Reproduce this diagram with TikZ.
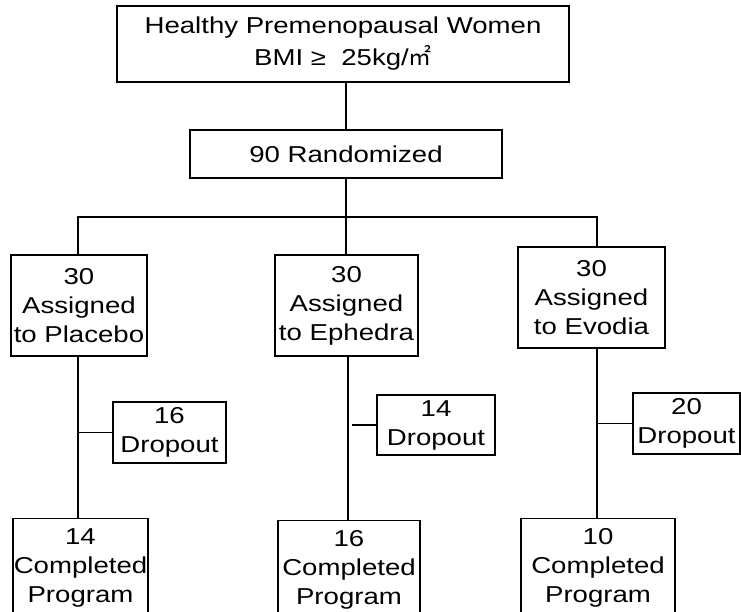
\documentclass[tikz,border=0pt]{standalone}
\usepackage{fontspec}
\setmainfont{Liberation Sans}[FakeStretch=1.2]
\newfontfamily\cjk{Noto Sans CJK KR}
\begin{document}
\begin{tikzpicture}[x=1pt,y=-1pt,
  box/.style={draw, line width=1.2pt, inner sep=0pt, align=center,
    font=\fontsize{23}{29}\selectfont},
  endbox/.style={box, anchor=north, inner ysep=10pt},
  link/.style={line width=1.2pt}]
\clip (0,0) rectangle (741,611);
% boxes
\node[box, minimum width=452pt, minimum height=76pt, font=\fontsize{23}{32}\selectfont] (top) at (343,44)
  {Healthy Premenopausal Women\\BMI ≥ \ 25kg/{\cjk ㎡}};
\node[box, minimum width=312pt, minimum height=48pt] (rand) at (346,154) {90 Randomized};
\node[box, minimum width=136pt, minimum height=101pt] (placebo) at (79,305.5) {30\\Assigned\\to Placebo};
\node[box, minimum width=143pt, minimum height=101pt] (ephedra) at (346.5,305.5) {30\\Assigned\\to Ephedra};
\node[box, minimum width=147pt, minimum height=101pt] (evodia) at (591.5,297.5) {30\\Assigned\\to Evodia};
\node[box, minimum width=113pt, minimum height=61pt] (drop16) at (169.5,432.5) {16\\Dropout};
\node[box, minimum width=118pt, minimum height=60pt] (drop14) at (436,425) {14\\Dropout};
\node[box, minimum width=107pt, minimum height=61pt] (drop20) at (686.5,423.5) {20\\Dropout};
\node[endbox, minimum width=135pt] (comp14) at (80.5,518) {14\\Completed\\Program};
\node[endbox, minimum width=142pt] (comp16) at (349,520) {16\\Completed\\Program};
\node[endbox, minimum width=154pt] (comp10) at (598,518) {10\\Completed\\Program};
% helper coordinates
\coordinate (bl) at (78,217);
\coordinate (br) at (597,217);
\coordinate (el) at (348,0);
\coordinate (gap) at (352,425);
% connectors
\draw[link] (top.south -| rand.north) -- (rand.north);
\draw[link] (rand.south) -- (rand.south |- ephedra.north);
\draw[link] (placebo.north -| bl) |- (br) -- (br |- evodia.north);
\draw[link] (placebo.south -| bl) -- (comp14.north -| bl);
\draw[link] (drop16.west) -- (drop16.west -| bl);
\draw[link] (ephedra.south -| el) -- (comp16.north -| el);
\draw[link] (drop14.west) -- (gap);
\draw[link] (evodia.south -| br) -- (comp10.north -| br);
\draw[link] (drop20.west) -- (drop20.west -| br);
\end{tikzpicture}
\end{document}
